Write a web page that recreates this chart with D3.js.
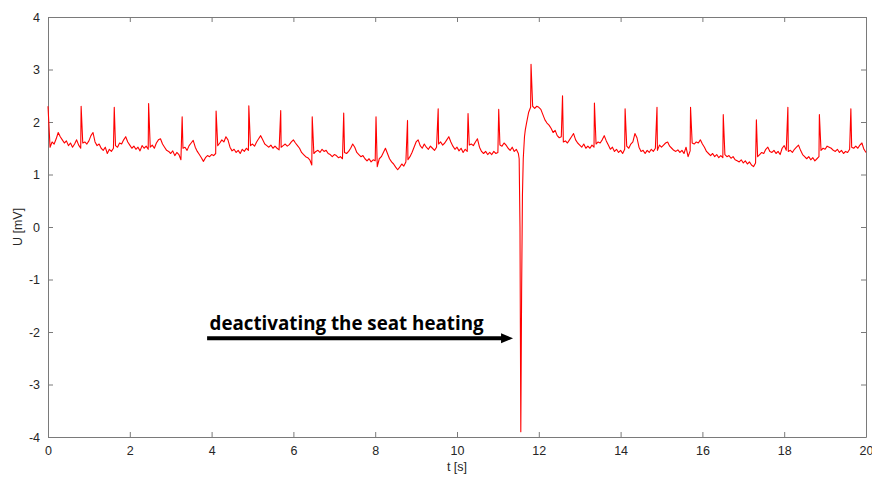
<!DOCTYPE html>
<html>
<head>
<meta charset="utf-8">
<script src="https://cdn.jsdelivr.net/npm/d3@7"></script>
<style>
    body { margin: 0; background: #fff; }
    svg text { font-family: "Liberation Sans", Arial, sans-serif; }
</style>
</head>
<body>
<div id="chart"></div>
<script>
// signal sampled every 0.05 s, values in mV, one row per second
const sampleStep = 0.05;
const uSamples = [
    2.30, 1.52, 1.62, 1.58, 1.68, 1.80, 1.72, 1.66, 1.60, 1.64, 1.55, 1.60, 1.52, 1.58, 1.66, 1.56, 1.50, 1.60, 1.62, 1.58,
    1.64, 1.74, 1.80, 1.62, 1.55, 1.58, 1.50, 1.46, 1.52, 1.40, 1.48, 1.44, 1.50, 1.55, 1.52, 1.60, 1.58, 1.66, 1.72, 1.62,
    1.56, 1.50, 1.54, 1.48, 1.52, 1.45, 1.55, 1.50, 1.54, 1.48, 1.52, 1.56, 1.50, 1.60, 1.66, 1.68, 1.58, 1.52, 1.46, 1.44,
    1.40, 1.45, 1.36, 1.42, 1.38, 1.28, 1.50, 1.52, 1.46, 1.55, 1.60, 1.65, 1.52, 1.44, 1.38, 1.32, 1.25, 1.32, 1.36, 1.34,
    1.38, 1.36, 1.40, 1.55, 1.60, 1.66, 1.62, 1.72, 1.66, 1.52, 1.45, 1.48, 1.42, 1.46, 1.40, 1.48, 1.44, 1.50, 1.46, 1.55,
    1.58, 1.54, 1.62, 1.68, 1.74, 1.66, 1.58, 1.55, 1.52, 1.56, 1.50, 1.54, 1.50, 1.47, 1.52, 1.55, 1.58, 1.54, 1.57, 1.62,
    1.66, 1.60, 1.55, 1.50, 1.42, 1.38, 1.34, 1.32, 1.28, 1.18, 1.40, 1.44, 1.46, 1.42, 1.48, 1.44, 1.46, 1.40, 1.38, 1.34,
    1.38, 1.36, 1.32, 1.34, 1.30, 1.42, 1.40, 1.44, 1.50, 1.58, 1.52, 1.42, 1.38, 1.34, 1.36, 1.30, 1.26, 1.30, 1.24, 1.28,
    1.26, 1.15, 1.30, 1.34, 1.42, 1.50, 1.40, 1.30, 1.24, 1.20, 1.14, 1.09, 1.14, 1.20, 1.16, 1.24, 1.28, 1.34, 1.42, 1.52,
    1.62, 1.66, 1.55, 1.50, 1.58, 1.52, 1.48, 1.54, 1.50, 1.46, 1.52, 1.58, 1.62, 1.56, 1.60, 1.66, 1.72, 1.62, 1.54, 1.48,
    1.52, 1.45, 1.50, 1.42, 1.48, 1.44, 1.56, 1.58, 1.55, 1.62, 1.68, 1.52, 1.44, 1.40, 1.44, 1.38, 1.42, 1.38, 1.44, 1.40,
    1.42, 1.56, 1.54, 1.60, 1.56, 1.50, 1.46, 1.52, 1.44, 1.48, 1.40, -2.00, 0.60, 1.72, 1.98, 2.18, 2.28, 2.30, 2.26, 2.30,
    2.28, 2.24, 2.14, 2.04, 1.98, 1.94, 1.88, 1.80, 1.84, 1.74, 1.70, 1.72, 1.62, 1.64, 1.60, 1.66, 1.72, 1.78, 1.66, 1.60,
    1.56, 1.52, 1.58, 1.50, 1.54, 1.50, 1.56, 1.52, 1.58, 1.62, 1.60, 1.66, 1.74, 1.64, 1.56, 1.48, 1.52, 1.44, 1.48, 1.42,
    1.46, 1.40, 1.48, 1.54, 1.50, 1.58, 1.62, 1.78, 1.70, 1.52, 1.44, 1.46, 1.40, 1.46, 1.42, 1.48, 1.44, 1.50, 1.46, 1.56,
    1.52, 1.56, 1.60, 1.62, 1.54, 1.50, 1.46, 1.44, 1.47, 1.42, 1.46, 1.40, 1.52, 1.34, 1.45, 1.60, 1.58, 1.62, 1.60, 1.66,
    1.58, 1.52, 1.44, 1.40, 1.36, 1.40, 1.34, 1.38, 1.32, 1.36, 1.32, 1.38, 1.34, 1.36, 1.31, 1.34, 1.28, 1.26, 1.24, 1.28,
    1.22, 1.26, 1.20, 1.24, 1.18, 1.15, 1.22, 1.34, 1.38, 1.42, 1.40, 1.48, 1.52, 1.44, 1.42, 1.46, 1.40, 1.44, 1.38, 1.50,
    1.55, 1.46, 1.44, 1.46, 1.42, 1.48, 1.52, 1.56, 1.46, 1.38, 1.34, 1.30, 1.34, 1.28, 1.32, 1.26, 1.30, 1.34, 1.46, 1.50,
    1.48, 1.54, 1.52, 1.50, 1.46, 1.44, 1.48, 1.42, 1.46, 1.40, 1.44, 1.42, 1.48, 1.52, 1.50, 1.54, 1.50, 1.56, 1.60, 1.48,
    1.42
];

// R-peaks
const beatTimes = [0.81, 1.62, 2.46, 3.28, 4.11, 4.91, 5.69, 6.46, 7.23, 8.02, 8.79, 9.54, 10.27, 11.02,
                   11.81, 12.58, 13.36, 14.11, 14.89, 15.71, 16.51, 17.32, 18.09, 18.86, 19.63];
const beatPeaks = [2.30, 2.28, 2.35, 2.10, 2.21, 2.31, 2.22, 2.10, 2.17, 2.10, 2.03, 2.25, 2.16, 2.24,
                   3.10, 2.50, 2.36, 2.25, 2.28, 2.28, 2.14, 2.04, 2.28, 2.14, 2.25];

// extra points of the artefact when the seat heating is switched off
const eventTimes = [11.52, 11.54, 11.56, 11.58, 11.62, 11.67];
const eventValues = [1.30, 0.00, -3.90, -1.20, 1.30, 1.85];

const xTicks = [0, 2, 4, 6, 8, 10, 12, 14, 16, 18, 20];
const yTicks = [-4, -3, -2, -1, 0, 1, 2, 3, 4];

const annotationText = 'deactivating the seat heating';
const arrowFrom = [3.89, -2.12];
const arrowTo = [11.37, -2.12];
const textAt = [3.95, -1.96];

const width = 872;
const height = 478;
const margin = { top: 17, right: 6, bottom: 41, left: 48 };

const svg = d3.select('#chart')
    .append('svg')
    .attr('width', width)
    .attr('height', height);

const xScale = d3.scaleLinear()
    .domain([0, 20])
    .range([margin.left, width - margin.right]);

const yScale = d3.scaleLinear()
    .domain([-4, 4])
    .range([height - margin.bottom, margin.top]);

// build the trace
let points = uSamples.map((u, i) => ({ t: i * sampleStep, u: u }));
beatTimes.forEach((t, i) => points.push({ t: t, u: beatPeaks[i] }));
eventTimes.forEach((t, i) => points.push({ t: t, u: eventValues[i] }));
points.sort((a, b) => a.t - b.t);

// axes
const axisColor = '#7a7a7a';
const textColor = '#262626';
const plainNumber = d => String(d);   // hyphen minus, like the original

const xAxis = d3.axisBottom(xScale)
    .tickValues(xTicks)
    .tickFormat(plainNumber)
    .tickSizeInner(-5)
    .tickSizeOuter(0)
    .tickPadding(9);

const yAxis = d3.axisLeft(yScale)
    .tickValues(yTicks)
    .tickFormat(plainNumber)
    .tickSizeInner(-5)
    .tickSizeOuter(0)
    .tickPadding(8);

const xTop = d3.axisTop(xScale).tickValues(xTicks).tickFormat('').tickSizeInner(-5).tickSizeOuter(0);
const yRight = d3.axisRight(yScale).tickValues(yTicks).tickFormat('').tickSizeInner(-5).tickSizeOuter(0);

const gx = svg.append('g')
    .attr('transform', `translate(0, ${yScale(-4)})`)
    .call(xAxis);
const gy = svg.append('g')
    .attr('transform', `translate(${xScale(0)}, 0)`)
    .call(yAxis);
const gt = svg.append('g')
    .attr('transform', `translate(0, ${yScale(4)})`)
    .call(xTop);
const gr = svg.append('g')
    .attr('transform', `translate(${xScale(20)}, 0)`)
    .call(yRight);

[gx, gy, gt, gr].forEach(g => {
    g.selectAll('path, line').attr('stroke', axisColor);
    g.selectAll('text').attr('fill', textColor).style('font-size', '12.5px');
});

// signal line
const line = d3.line()
    .x(d => xScale(d.t))
    .y(d => yScale(d.u));

svg.append('path')
    .datum(points)
    .attr('fill', 'none')
    .attr('stroke', '#ff0000')
    .attr('stroke-width', 1.1)
    .attr('stroke-linejoin', 'round')
    .attr('d', line);

// axis labels
svg.append('text')
    .attr('x', xScale(10))
    .attr('y', 471)
    .attr('text-anchor', 'middle')
    .attr('fill', textColor)
    .style('font-size', '12.5px')
    .text('t [s]');

svg.append('text')
    .attr('transform', `translate(22, ${yScale(0)}) rotate(-90)`)
    .attr('text-anchor', 'middle')
    .attr('fill', textColor)
    .style('font-size', '12.5px')
    .text('U [mV]');

// annotation arrow
svg.append('line')
    .attr('x1', xScale(arrowFrom[0]))
    .attr('y1', yScale(arrowFrom[1]))
    .attr('x2', xScale(arrowTo[0]) - 8)
    .attr('y2', yScale(arrowTo[1]))
    .attr('stroke', '#000')
    .attr('stroke-width', 4);

svg.append('path')
    .attr('d', `M${xScale(arrowTo[0]) - 12},${yScale(arrowTo[1]) - 5} L${xScale(arrowTo[0])},${yScale(arrowTo[1])} L${xScale(arrowTo[0]) - 12},${yScale(arrowTo[1]) + 5} Z`)
    .attr('fill', '#000');

const label = svg.append('text')
    .attr('x', xScale(textAt[0]))
    .attr('y', yScale(textAt[1]))
    .attr('fill', '#000')
    .style('font-family', '"Open Sans", "Noto Sans", sans-serif')
    .style('font-weight', 'bold')
    .style('font-size', '18px')
    .text(annotationText);

const measured = label.node().getComputedTextLength();
label.style('font-size', (18 * 274 / measured).toFixed(2) + 'px');
</script>
</body>
</html>
